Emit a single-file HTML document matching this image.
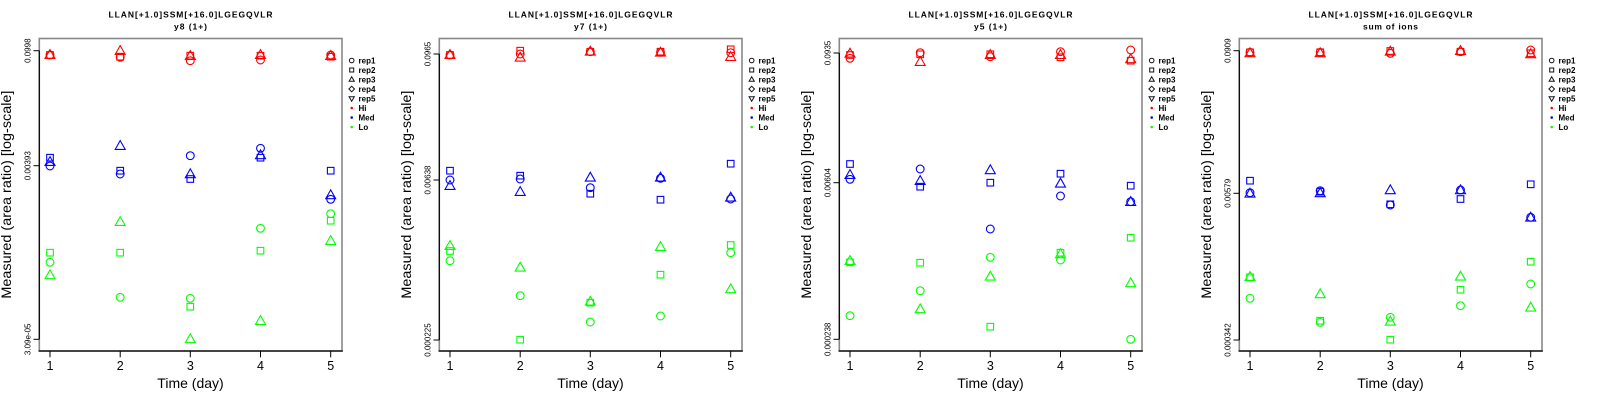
<!DOCTYPE html>
<html><head><meta charset="utf-8"><style>
html,body{margin:0;padding:0;background:#fff}
svg{display:block}
.m{fill:none;stroke-width:1.1}
.r{stroke:#f00}.b{stroke:#00f}.g{stroke:#0f0}
.t1{font-family:"Liberation Sans",sans-serif;font-weight:bold;font-size:8.5px;fill:#000}
.lg{font-family:"Liberation Sans",sans-serif;font-weight:bold;font-size:8px;fill:#000}
.yt{font-family:"Liberation Sans",sans-serif;font-size:8px;fill:#000}
.xt{font-family:"Liberation Sans",sans-serif;font-size:12.5px;fill:#000}
.xl{font-family:"Liberation Sans",sans-serif;font-size:14px;fill:#000}
.ls{fill:none;stroke:#111;stroke-width:1}
</style></head><body>
<svg width="1600" height="400" viewBox="0 0 1600 400" xmlns="http://www.w3.org/2000/svg">
<rect width="1600" height="400" fill="#fff"/>

<!-- ================= PANEL 1 ================= -->
<g>
<text class="t1" x="190.5" y="17.3" text-anchor="middle" textLength="164" lengthAdjust="spacing">LLAN[+1.0]SSM[+16.0]LGEGQVLR</text>
<text class="t1" x="190.5" y="29.3" text-anchor="middle" textLength="33" lengthAdjust="spacing">y8 (1+)</text>
<rect x="39.3" y="38.5" width="302.7" height="312.5" fill="none" stroke="#888" stroke-width="1.6"/>
<line x1="38.5" y1="351" x2="342.8" y2="351" stroke="#000" stroke-width="1.2"/>
<line x1="39.3" y1="50.7" x2="39.3" y2="339.3" stroke="#000" stroke-width="1.2"/>
<g stroke="#000" stroke-width="1">
<line x1="33.5" y1="50.7" x2="39.3" y2="50.7"/><line x1="33.5" y1="165.7" x2="39.3" y2="165.7"/><line x1="33.5" y1="339.3" x2="39.3" y2="339.3"/>
<line x1="50" y1="351" x2="50" y2="357.3"/><line x1="120.2" y1="351" x2="120.2" y2="357.3"/><line x1="190.3" y1="351" x2="190.3" y2="357.3"/><line x1="260.5" y1="351" x2="260.5" y2="357.3"/><line x1="330.7" y1="351" x2="330.7" y2="357.3"/>
</g>
<text class="yt" transform="translate(30.5,50.7) rotate(-90)" text-anchor="middle">0.0998</text>
<text class="yt" transform="translate(30.5,165.7) rotate(-90)" text-anchor="middle">0.00393</text>
<text class="yt" transform="translate(30.5,339.3) rotate(-90)" text-anchor="middle">3.09e-05</text>
<text class="xt" x="50" y="370" text-anchor="middle">1</text><text class="xt" x="120.2" y="370" text-anchor="middle">2</text><text class="xt" x="190.3" y="370" text-anchor="middle">3</text><text class="xt" x="260.5" y="370" text-anchor="middle">4</text><text class="xt" x="330.7" y="370" text-anchor="middle">5</text>
<text class="xl" x="190.5" y="388" text-anchor="middle">Time (day)</text>
<text class="xl" transform="translate(11,194.6) rotate(-90)" text-anchor="middle" textLength="208" lengthAdjust="spacingAndGlyphs">Measured (area ratio) [log-scale]</text>
<!-- legend -->
<circle class="ls" cx="351.7" cy="60.5" r="2.3"/>
<rect class="ls" x="349.7" y="68" width="4" height="4"/>
<path class="ls" d="M351.7,76.8l2.6,4.5h-5.2z"/>
<path class="ls" d="M351.7,86.2l2.8,2.8l-2.8,2.8l-2.8,-2.8z"/>
<path class="ls" d="M351.7,101.2l2.6,-4.5h-5.2z"/>
<circle cx="351.7" cy="108" r="1.3" fill="#f00"/><circle cx="351.7" cy="117.5" r="1.3" fill="#00f"/><circle cx="351.7" cy="127" r="1.3" fill="#0f0"/>
<text class="lg" x="358.5" y="63.5">rep1</text><text class="lg" x="358.5" y="73">rep2</text><text class="lg" x="358.5" y="82.5">rep3</text><text class="lg" x="358.5" y="92">rep4</text><text class="lg" x="358.5" y="101.5">rep5</text><text class="lg" x="358.5" y="111">Hi</text><text class="lg" x="358.5" y="120.5">Med</text><text class="lg" x="358.5" y="130">Lo</text>
<!-- data -->
<g class="m r">
<circle cx="50" cy="55" r="3.9"/><circle cx="120.2" cy="57.3" r="3.9"/><circle cx="190.3" cy="60.7" r="3.9"/><circle cx="260.5" cy="60" r="3.9"/><circle cx="330.7" cy="55" r="3.9"/>
<rect x="46.7" y="51.7" width="6.6" height="6.6"/><rect x="116.9" y="53.4" width="6.6" height="6.6"/><rect x="187" y="52.4" width="6.6" height="6.6"/><rect x="257.2" y="52.4" width="6.6" height="6.6"/><rect x="327.4" y="53.4" width="6.6" height="6.6"/>
<path d="M50,49.6l5,8.8h-10zM120.2,45.6l5,8.8h-10zM190.3,50.6l5,8.8h-10zM260.5,49.6l5,8.8h-10zM330.7,50.6l5,8.8h-10z"/>
</g>
<g class="m b">
<circle cx="50" cy="166" r="3.9"/><circle cx="120.2" cy="174" r="3.9"/><circle cx="190.3" cy="155.7" r="3.9"/><circle cx="260.5" cy="148.3" r="3.9"/><circle cx="330.7" cy="199.3" r="3.9"/>
<rect x="46.7" y="154.4" width="6.6" height="6.6"/><rect x="116.9" y="167.4" width="6.6" height="6.6"/><rect x="187" y="175.7" width="6.6" height="6.6"/><rect x="257.2" y="154.4" width="6.6" height="6.6"/><rect x="327.4" y="167.4" width="6.6" height="6.6"/>
<path d="M50,156.6l5,8.8h-10zM120.2,140.6l5,8.8h-10zM190.3,168.9l5,8.8h-10zM260.5,149.9l5,8.8h-10zM330.7,189.9l5,8.8h-10z"/>
</g>
<g class="m g">
<circle cx="50" cy="262.3" r="3.9"/><circle cx="120.2" cy="297.3" r="3.9"/><circle cx="190.3" cy="298.3" r="3.9"/><circle cx="260.5" cy="228.3" r="3.9"/><circle cx="330.7" cy="213.7" r="3.9"/>
<rect x="46.7" y="249.4" width="6.6" height="6.6"/><rect x="116.9" y="249.4" width="6.6" height="6.6"/><rect x="187" y="303.4" width="6.6" height="6.6"/><rect x="257.2" y="247.4" width="6.6" height="6.6"/><rect x="327.4" y="217.4" width="6.6" height="6.6"/>
<path d="M50,269.9l5,8.8h-10zM120.2,216.6l5,8.8h-10zM190.3,333.9l5,8.8h-10zM260.5,315.6l5,8.8h-10zM330.7,235.6l5,8.8h-10z"/>
</g>
</g>

<!-- ================= PANEL 2 ================= -->
<g transform="translate(400,0)">
<text class="t1" x="190.5" y="17.3" text-anchor="middle" textLength="164" lengthAdjust="spacing">LLAN[+1.0]SSM[+16.0]LGEGQVLR</text>
<text class="t1" x="190.5" y="29.3" text-anchor="middle" textLength="33" lengthAdjust="spacing">y7 (1+)</text>
<rect x="39.3" y="38.5" width="302.7" height="312.5" fill="none" stroke="#888" stroke-width="1.6"/>
<line x1="38.5" y1="351" x2="342.8" y2="351" stroke="#000" stroke-width="1.2"/>
<line x1="39.3" y1="54" x2="39.3" y2="340" stroke="#000" stroke-width="1.2"/>
<g stroke="#000" stroke-width="1">
<line x1="33.5" y1="54" x2="39.3" y2="54"/><line x1="33.5" y1="180" x2="39.3" y2="180"/><line x1="33.5" y1="340" x2="39.3" y2="340"/>
<line x1="50" y1="351" x2="50" y2="357.3"/><line x1="120.2" y1="351" x2="120.2" y2="357.3"/><line x1="190.3" y1="351" x2="190.3" y2="357.3"/><line x1="260.5" y1="351" x2="260.5" y2="357.3"/><line x1="330.7" y1="351" x2="330.7" y2="357.3"/>
</g>
<text class="yt" transform="translate(30.5,54) rotate(-90)" text-anchor="middle">0.0965</text>
<text class="yt" transform="translate(30.5,180) rotate(-90)" text-anchor="middle">0.00638</text>
<text class="yt" transform="translate(30.5,340) rotate(-90)" text-anchor="middle">0.000225</text>
<text class="xt" x="50" y="370" text-anchor="middle">1</text><text class="xt" x="120.2" y="370" text-anchor="middle">2</text><text class="xt" x="190.3" y="370" text-anchor="middle">3</text><text class="xt" x="260.5" y="370" text-anchor="middle">4</text><text class="xt" x="330.7" y="370" text-anchor="middle">5</text>
<text class="xl" x="190.5" y="388" text-anchor="middle">Time (day)</text>
<text class="xl" transform="translate(11,194.6) rotate(-90)" text-anchor="middle" textLength="208" lengthAdjust="spacingAndGlyphs">Measured (area ratio) [log-scale]</text>
<circle class="ls" cx="351.7" cy="60.5" r="2.3"/>
<rect class="ls" x="349.7" y="68" width="4" height="4"/>
<path class="ls" d="M351.7,76.8l2.6,4.5h-5.2z"/>
<path class="ls" d="M351.7,86.2l2.8,2.8l-2.8,2.8l-2.8,-2.8z"/>
<path class="ls" d="M351.7,101.2l2.6,-4.5h-5.2z"/>
<circle cx="351.7" cy="108" r="1.3" fill="#f00"/><circle cx="351.7" cy="117.5" r="1.3" fill="#00f"/><circle cx="351.7" cy="127" r="1.3" fill="#0f0"/>
<text class="lg" x="358.5" y="63.5">rep1</text><text class="lg" x="358.5" y="73">rep2</text><text class="lg" x="358.5" y="82.5">rep3</text><text class="lg" x="358.5" y="92">rep4</text><text class="lg" x="358.5" y="101.5">rep5</text><text class="lg" x="358.5" y="111">Hi</text><text class="lg" x="358.5" y="120.5">Med</text><text class="lg" x="358.5" y="130">Lo</text>
<g class="m r">
<circle cx="50" cy="55" r="3.9"/><circle cx="120.2" cy="54" r="3.9"/><circle cx="190.3" cy="51.7" r="3.9"/><circle cx="260.5" cy="52.3" r="3.9"/><circle cx="330.7" cy="52.7" r="3.9"/>
<rect x="46.7" y="51.7" width="6.6" height="6.6"/><rect x="116.9" y="47.4" width="6.6" height="6.6"/><rect x="187" y="48.4" width="6.6" height="6.6"/><rect x="257.2" y="48.4" width="6.6" height="6.6"/><rect x="327.4" y="46" width="6.6" height="6.6"/>
<path d="M50,49.6l5,8.8h-10zM120.2,52.3l5,8.8h-10zM190.3,46.3l5,8.8h-10zM260.5,47.3l5,8.8h-10zM330.7,51.6l5,8.8h-10z"/>
</g>
<g class="m b">
<circle cx="50" cy="180" r="3.9"/><circle cx="120.2" cy="179" r="3.9"/><circle cx="190.3" cy="187.7" r="3.9"/><circle cx="260.5" cy="178.3" r="3.9"/><circle cx="330.7" cy="199" r="3.9"/>
<rect x="46.7" y="167.4" width="6.6" height="6.6"/><rect x="116.9" y="172.4" width="6.6" height="6.6"/><rect x="187" y="190.4" width="6.6" height="6.6"/><rect x="257.2" y="196.4" width="6.6" height="6.6"/><rect x="327.4" y="160.4" width="6.6" height="6.6"/>
<path d="M50,180.6l5,8.8h-10zM120.2,186.6l5,8.8h-10zM190.3,172.3l5,8.8h-10zM260.5,172.3l5,8.8h-10zM330.7,192.3l5,8.8h-10z"/>
</g>
<g class="m g">
<circle cx="50" cy="260.7" r="3.9"/><circle cx="120.2" cy="295.7" r="3.9"/><circle cx="190.3" cy="322" r="3.9"/><circle cx="260.5" cy="316" r="3.9"/><circle cx="330.7" cy="252.7" r="3.9"/>
<rect x="46.7" y="247.7" width="6.6" height="6.6"/><rect x="116.9" y="336.4" width="6.6" height="6.6"/><rect x="187" y="299.4" width="6.6" height="6.6"/><rect x="257.2" y="271.4" width="6.6" height="6.6"/><rect x="327.4" y="241.7" width="6.6" height="6.6"/>
<path d="M50,240.6l5,8.8h-10zM120.2,262.3l5,8.8h-10zM190.3,296.3l5,8.8h-10zM260.5,241.6l5,8.8h-10zM330.7,283.9l5,8.8h-10z"/>
</g>
</g>

<!-- ================= PANEL 3 ================= -->
<g transform="translate(800,0)">
<text class="t1" x="190.5" y="17.3" text-anchor="middle" textLength="164" lengthAdjust="spacing">LLAN[+1.0]SSM[+16.0]LGEGQVLR</text>
<text class="t1" x="190.5" y="29.3" text-anchor="middle" textLength="33" lengthAdjust="spacing">y5 (1+)</text>
<rect x="39.3" y="38.5" width="302.7" height="312.5" fill="none" stroke="#888" stroke-width="1.6"/>
<line x1="38.5" y1="351" x2="342.8" y2="351" stroke="#000" stroke-width="1.2"/>
<line x1="39.3" y1="53" x2="39.3" y2="339.3" stroke="#000" stroke-width="1.2"/>
<g stroke="#000" stroke-width="1">
<line x1="33.5" y1="53" x2="39.3" y2="53"/><line x1="33.5" y1="182.7" x2="39.3" y2="182.7"/><line x1="33.5" y1="339.3" x2="39.3" y2="339.3"/>
<line x1="50" y1="351" x2="50" y2="357.3"/><line x1="120.2" y1="351" x2="120.2" y2="357.3"/><line x1="190.3" y1="351" x2="190.3" y2="357.3"/><line x1="260.5" y1="351" x2="260.5" y2="357.3"/><line x1="330.7" y1="351" x2="330.7" y2="357.3"/>
</g>
<text class="yt" transform="translate(30.5,53) rotate(-90)" text-anchor="middle">0.0935</text>
<text class="yt" transform="translate(30.5,182.7) rotate(-90)" text-anchor="middle">0.00604</text>
<text class="yt" transform="translate(30.5,339.3) rotate(-90)" text-anchor="middle">0.000238</text>
<text class="xt" x="50" y="370" text-anchor="middle">1</text><text class="xt" x="120.2" y="370" text-anchor="middle">2</text><text class="xt" x="190.3" y="370" text-anchor="middle">3</text><text class="xt" x="260.5" y="370" text-anchor="middle">4</text><text class="xt" x="330.7" y="370" text-anchor="middle">5</text>
<text class="xl" x="190.5" y="388" text-anchor="middle">Time (day)</text>
<text class="xl" transform="translate(11,194.6) rotate(-90)" text-anchor="middle" textLength="208" lengthAdjust="spacingAndGlyphs">Measured (area ratio) [log-scale]</text>
<circle class="ls" cx="351.7" cy="60.5" r="2.3"/>
<rect class="ls" x="349.7" y="68" width="4" height="4"/>
<path class="ls" d="M351.7,76.8l2.6,4.5h-5.2z"/>
<path class="ls" d="M351.7,86.2l2.8,2.8l-2.8,2.8l-2.8,-2.8z"/>
<path class="ls" d="M351.7,101.2l2.6,-4.5h-5.2z"/>
<circle cx="351.7" cy="108" r="1.3" fill="#f00"/><circle cx="351.7" cy="117.5" r="1.3" fill="#00f"/><circle cx="351.7" cy="127" r="1.3" fill="#0f0"/>
<text class="lg" x="358.5" y="63.5">rep1</text><text class="lg" x="358.5" y="73">rep2</text><text class="lg" x="358.5" y="82.5">rep3</text><text class="lg" x="358.5" y="92">rep4</text><text class="lg" x="358.5" y="101.5">rep5</text><text class="lg" x="358.5" y="111">Hi</text><text class="lg" x="358.5" y="120.5">Med</text><text class="lg" x="358.5" y="130">Lo</text>
<g class="m r">
<circle cx="50" cy="58.3" r="3.9"/><circle cx="120.2" cy="52.7" r="3.9"/><circle cx="190.3" cy="56.7" r="3.9"/><circle cx="260.5" cy="51.7" r="3.9"/><circle cx="330.7" cy="50" r="3.9"/>
<rect x="46.7" y="51.7" width="6.6" height="6.6"/><rect x="116.9" y="51" width="6.6" height="6.6"/><rect x="187" y="51" width="6.6" height="6.6"/><rect x="257.2" y="54" width="6.6" height="6.6"/><rect x="327.4" y="57.4" width="6.6" height="6.6"/>
<path d="M50,48.3l5,8.8h-10zM120.2,56.6l5,8.8h-10zM190.3,49.6l5,8.8h-10zM260.5,49.6l5,8.8h-10zM330.7,53.9l5,8.8h-10z"/>
</g>
<g class="m b">
<circle cx="50" cy="179.3" r="3.9"/><circle cx="120.2" cy="169" r="3.9"/><circle cx="190.3" cy="229" r="3.9"/><circle cx="260.5" cy="196" r="3.9"/><circle cx="330.7" cy="201.7" r="3.9"/>
<rect x="46.7" y="160.7" width="6.6" height="6.6"/><rect x="116.9" y="183.4" width="6.6" height="6.6"/><rect x="187" y="179.4" width="6.6" height="6.6"/><rect x="257.2" y="170.4" width="6.6" height="6.6"/><rect x="327.4" y="182.4" width="6.6" height="6.6"/>
<path d="M50,169.6l5,8.8h-10zM120.2,175.6l5,8.8h-10zM190.3,164.9l5,8.8h-10zM260.5,178.3l5,8.8h-10zM330.7,196.6l5,8.8h-10z"/>
</g>
<g class="m g">
<circle cx="50" cy="315.7" r="3.9"/><circle cx="120.2" cy="290.7" r="3.9"/><circle cx="190.3" cy="257.3" r="3.9"/><circle cx="260.5" cy="260" r="3.9"/><circle cx="330.7" cy="339.3" r="3.9"/>
<rect x="46.7" y="259" width="6.6" height="6.6"/><rect x="116.9" y="259.4" width="6.6" height="6.6"/><rect x="187" y="323.4" width="6.6" height="6.6"/><rect x="257.2" y="249.4" width="6.6" height="6.6"/><rect x="327.4" y="234.4" width="6.6" height="6.6"/>
<path d="M50,255.6l5,8.8h-10zM120.2,303.9l5,8.8h-10zM190.3,271.3l5,8.8h-10zM260.5,248.9l5,8.8h-10zM330.7,277.9l5,8.8h-10z"/>
</g>
</g>

<!-- ================= PANEL 4 ================= -->
<g transform="translate(1200,0)">
<text class="t1" x="190.5" y="17.3" text-anchor="middle" textLength="164" lengthAdjust="spacing">LLAN[+1.0]SSM[+16.0]LGEGQVLR</text>
<text class="t1" x="190.5" y="29.3" text-anchor="middle" textLength="55" lengthAdjust="spacing">sum of ions</text>
<rect x="39.3" y="38.5" width="302.7" height="312.5" fill="none" stroke="#888" stroke-width="1.6"/>
<line x1="38.5" y1="351" x2="342.8" y2="351" stroke="#000" stroke-width="1.2"/>
<line x1="39.3" y1="50.7" x2="39.3" y2="340" stroke="#000" stroke-width="1.2"/>
<g stroke="#000" stroke-width="1">
<line x1="33.5" y1="50.7" x2="39.3" y2="50.7"/><line x1="33.5" y1="193.3" x2="39.3" y2="193.3"/><line x1="33.5" y1="340" x2="39.3" y2="340"/>
<line x1="50" y1="351" x2="50" y2="357.3"/><line x1="120.2" y1="351" x2="120.2" y2="357.3"/><line x1="190.3" y1="351" x2="190.3" y2="357.3"/><line x1="260.5" y1="351" x2="260.5" y2="357.3"/><line x1="330.7" y1="351" x2="330.7" y2="357.3"/>
</g>
<text class="yt" transform="translate(30.5,50.7) rotate(-90)" text-anchor="middle">0.0909</text>
<text class="yt" transform="translate(30.5,193.3) rotate(-90)" text-anchor="middle">0.00579</text>
<text class="yt" transform="translate(30.5,340) rotate(-90)" text-anchor="middle">0.000342</text>
<text class="xt" x="50" y="370" text-anchor="middle">1</text><text class="xt" x="120.2" y="370" text-anchor="middle">2</text><text class="xt" x="190.3" y="370" text-anchor="middle">3</text><text class="xt" x="260.5" y="370" text-anchor="middle">4</text><text class="xt" x="330.7" y="370" text-anchor="middle">5</text>
<text class="xl" x="190.5" y="388" text-anchor="middle">Time (day)</text>
<text class="xl" transform="translate(11,194.6) rotate(-90)" text-anchor="middle" textLength="208" lengthAdjust="spacingAndGlyphs">Measured (area ratio) [log-scale]</text>
<circle class="ls" cx="351.7" cy="60.5" r="2.3"/>
<rect class="ls" x="349.7" y="68" width="4" height="4"/>
<path class="ls" d="M351.7,76.8l2.6,4.5h-5.2z"/>
<path class="ls" d="M351.7,86.2l2.8,2.8l-2.8,2.8l-2.8,-2.8z"/>
<path class="ls" d="M351.7,101.2l2.6,-4.5h-5.2z"/>
<circle cx="351.7" cy="108" r="1.3" fill="#f00"/><circle cx="351.7" cy="117.5" r="1.3" fill="#00f"/><circle cx="351.7" cy="127" r="1.3" fill="#0f0"/>
<text class="lg" x="358.5" y="63.5">rep1</text><text class="lg" x="358.5" y="73">rep2</text><text class="lg" x="358.5" y="82.5">rep3</text><text class="lg" x="358.5" y="92">rep4</text><text class="lg" x="358.5" y="101.5">rep5</text><text class="lg" x="358.5" y="111">Hi</text><text class="lg" x="358.5" y="120.5">Med</text><text class="lg" x="358.5" y="130">Lo</text>
<g class="m r">
<circle cx="50" cy="52.3" r="3.9"/><circle cx="120.2" cy="52.3" r="3.9"/><circle cx="190.3" cy="53.3" r="3.9"/><circle cx="260.5" cy="51.7" r="3.9"/><circle cx="330.7" cy="50" r="3.9"/>
<rect x="46.7" y="49" width="6.6" height="6.6"/><rect x="116.9" y="49" width="6.6" height="6.6"/><rect x="187" y="47.7" width="6.6" height="6.6"/><rect x="257.2" y="48.4" width="6.6" height="6.6"/><rect x="327.4" y="50" width="6.6" height="6.6"/>
<path d="M50,47.9l5,8.8h-10zM120.2,47.9l5,8.8h-10zM190.3,46.3l5,8.8h-10zM260.5,45.6l5,8.8h-10zM330.7,48.9l5,8.8h-10z"/>
</g>
<g class="m b">
<circle cx="50" cy="192.7" r="3.9"/><circle cx="120.2" cy="190.7" r="3.9"/><circle cx="190.3" cy="205" r="3.9"/><circle cx="260.5" cy="190" r="3.9"/><circle cx="330.7" cy="217.3" r="3.9"/>
<rect x="46.7" y="177.4" width="6.6" height="6.6"/><rect x="116.9" y="188.4" width="6.6" height="6.6"/><rect x="187" y="201" width="6.6" height="6.6"/><rect x="257.2" y="195.7" width="6.6" height="6.6"/><rect x="327.4" y="181" width="6.6" height="6.6"/>
<path d="M50,188.3l5,8.8h-10zM120.2,187.9l5,8.8h-10zM190.3,184.9l5,8.8h-10zM260.5,184.9l5,8.8h-10zM330.7,212.3l5,8.8h-10z"/>
</g>
<g class="m g">
<circle cx="50" cy="298.3" r="3.9"/><circle cx="120.2" cy="322.3" r="3.9"/><circle cx="190.3" cy="317.3" r="3.9"/><circle cx="260.5" cy="305.7" r="3.9"/><circle cx="330.7" cy="284" r="3.9"/>
<rect x="46.7" y="274" width="6.6" height="6.6"/><rect x="116.9" y="317.4" width="6.6" height="6.6"/><rect x="187" y="336.4" width="6.6" height="6.6"/><rect x="257.2" y="286.4" width="6.6" height="6.6"/><rect x="327.4" y="258.4" width="6.6" height="6.6"/>
<path d="M50,271.6l5,8.8h-10zM120.2,288.9l5,8.8h-10zM190.3,316.3l5,8.8h-10zM260.5,271.3l5,8.8h-10zM330.7,302.3l5,8.8h-10z"/>
</g>
</g>
</svg>
</body></html>
